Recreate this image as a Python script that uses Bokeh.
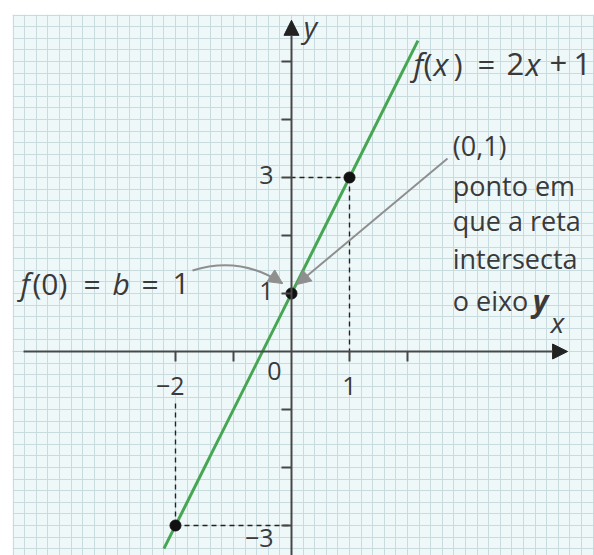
from bokeh.plotting import figure
from bokeh.models import (Range1d, Grid, LinearAxis, FixedTicker, SingleIntervalTicker,
                          Arrow, NormalHead, Label)
from bokeh.embed import file_html
from bokeh.resources import INLINE

# ---------------- data ----------------
line_x = [-2.2, 2.18]          # ends of the drawn segment of f(x) = 2x + 1
line_y = [-3.4, 5.36]
point_x = [-2, 0, 1]
point_y = [-3, 1, 3]
x_ticks = [-2, -1, 1, 2]
y_ticks = [-3, -2, -1, 1, 2, 3, 4, 5]
x_label_vals = [-2, 1]
x_label_text = ["−2", "1"]
y_label_vals = [3, 1, -3]
y_label_text = ["3", "1", "−3"]
origin_text = "0"

FONT = "Open Sans"
TXT = "#3a3a3a"
AX = "#474747"
GRID = "#c8dcdf"
GREEN = "#46a653"
GRAY = "#8f8f8f"
TEXT_LIFT = 10   # px correction of the text baseline

p = figure(width=594, height=555,
           x_range=Range1d(-4.8103, 5.2241), y_range=Range1d(-3.5172, 5.8103),
           x_axis_type=None, y_axis_type=None,
           toolbar_location=None, output_backend="svg",
           min_border_left=12, min_border_top=14, min_border_right=0, min_border_bottom=0,
           background_fill_color="#eff8f9", border_fill_color="white",
           outline_line_color=None)

# graph-paper grid: one unit = 5 small squares
for dim in (0, 1):
    g = Grid(dimension=dim, ticker=SingleIntervalTicker(interval=1, num_minor_ticks=5),
             grid_line_color=GRID, grid_line_width=1,
             minor_grid_line_color=GRID, minor_grid_line_width=1)
    p.add_layout(g)

# axes through the origin (ticks only) ------------------------------------
xa = LinearAxis(fixed_location=0, ticker=FixedTicker(ticks=x_ticks, minor_ticks=[]),
                axis_line_color=None, major_tick_line_color=AX, major_tick_line_width=2,
                major_tick_out=10, major_tick_in=0, minor_tick_line_color=None,
                major_label_overrides={t: "" for t in x_ticks})
ya = LinearAxis(fixed_location=0, ticker=FixedTicker(ticks=y_ticks, minor_ticks=[]),
                axis_line_color=None, major_tick_line_color=AX, major_tick_line_width=2,
                major_tick_out=10, major_tick_in=0, minor_tick_line_color=None,
                major_label_overrides={t: "" for t in y_ticks})
p.add_layout(xa, "below")
p.add_layout(ya, "left")

# axis lines with arrow heads
p.add_layout(Arrow(x_start=-4.62, y_start=0, x_end=4.76, y_end=0,
                   line_color=AX, line_width=2,
                   end=NormalHead(size=15, fill_color="#222", line_color="#222")))
p.add_layout(Arrow(x_start=0, y_start=-3.7, x_end=0, y_end=5.71,
                   line_color=AX, line_width=2,
                   end=NormalHead(size=15, fill_color="#222", line_color="#222")))

# dashed guides from the points to the axes (stopping under the tick label when below)
gx = [x for x, y in zip(point_x, point_y) if x != 0]
gy = [y for x, y in zip(point_x, point_y) if x != 0]
gstop = [0 if y > 0 else -0.85 for y in gy]
p.segment(x0=gx, y0=gy, x1=gx, y1=gstop, line_color="#222",
          line_width=1.4, line_dash="5 4")
p.segment(x0=gx, y0=gy, x1=[0] * len(gx), y1=gy, line_color="#222",
          line_width=1.4, line_dash="5 4")

# the line f(x) = 2x + 1
p.line(line_x, line_y, line_color=GREEN, line_width=3)

# points
p.scatter(point_x, point_y, size=11, fill_color="#111", line_color="#111")

# ---------------- text helpers ----------------
def lab(x, y, text, size="27px", style="normal", dx=0, dy=0, align="left",
        baseline="alphabetic", color=TXT):
    p.add_layout(Label(x=x, y=y, text=text, x_offset=dx, y_offset=dy + TEXT_LIFT,
                       text_font=FONT, text_font_size=size, text_font_style=style,
                       text_color=color, text_align=align, text_baseline=baseline))

def pieces(x, y, parts, size):
    for text, style, dx in parts:
        lab(x, y, text, size=size, style=style, dx=dx)

# tick labels
for v, t in zip(x_label_vals, x_label_text):
    if v < 0:
        lab(v, 0, t, size="25px", align="right", dx=9, dy=-44)
    else:
        lab(v, 0, t, size="25px", align="center", dy=-44)
for v, t in zip(y_label_vals, y_label_text):
    lab(0, v, t, size="25px", align="right", dx=-18, dy=(-22 if v < 0 else -8))
lab(0, 0, origin_text, size="25px", align="right", dx=-10, dy=-29)

# axis names
lab(0.21, 5.43, "y", size="29px", style="italic")
lab(4.47, 0.33, "x", size="28px", style="italic")

# formula f(x) = 2x + 1
pieces(2.1034, 4.793, [("f", "italic", 0), ("(", "normal", 10), ("x", "italic", 20),
                       (")", "normal", 40), ("=", "normal", 64), ("2", "normal", 93),
                       ("x", "italic", 112), ("+", "normal", 136), ("1", "normal", 160)],
       "31px")

# f(0) = b = 1
pieces(-4.672, 1.0, [("f", "italic", 0), ("(0)", "normal", 12), ("=", "normal", 63),
                     ("b", "italic", 92), ("=", "normal", 121), ("1", "normal", 152)],
       "30px")

# explanation of the point (0,1)
lab(2.78, 3.379, "(0,1)")
lab(2.78, 2.690, "ponto em")
lab(2.78, 2.086, "que a reta")
lab(2.78, 1.431, "intersecta")
lab(2.78, 0.707, "o eixo")
lab(2.78, 0.707, "y", size="30px", style="bold italic", dx=80)

# pointer arrows
p.add_layout(Arrow(x_start=2.69, y_start=3.328, x_end=0.09, y_end=1.155,
                   line_color=GRAY, line_width=2,
                   end=NormalHead(size=14, fill_color=GRAY, line_color=GRAY)))
p.quadratic(x0=[-1.707], y0=[1.397], cx=[-0.879], cy=[1.655], x1=[-0.155], y1=[1.172],
            line_color=GRAY, line_width=2)
p.add_layout(Arrow(x_start=-0.227, y_start=1.220, x_end=-0.155, y_end=1.172,
                   line_color=GRAY, line_width=2,
                   end=NormalHead(size=14, fill_color=GRAY, line_color=GRAY)))

open("out.html", "w").write(file_html(p, INLINE))
